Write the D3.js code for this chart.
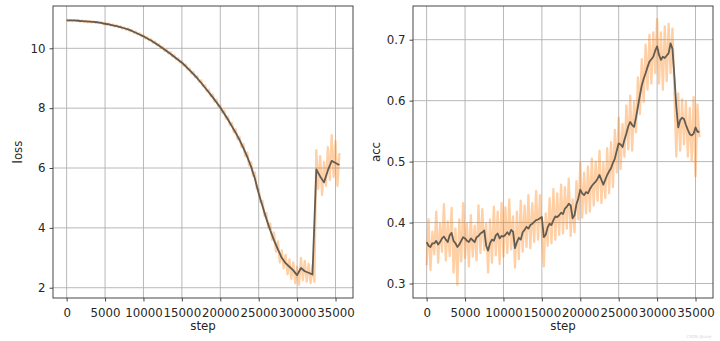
<!DOCTYPE html>
<html>
<head>
<meta charset="utf-8">
<script src="https://cdn.jsdelivr.net/npm/d3@7"></script>
<style>
  html, body { margin: 0; padding: 0; background: #fff; }
  svg { display: block; font-family: "DejaVu Sans", sans-serif; }
</style>
</head>
<body>
<svg id="chart" width="720" height="341"></svg>
<script>
// Training steps: raw log every 250 steps, coarse smoothed loss every 500 steps
const rawSteps = d3.range(0, 35750, 250);
const coarseSteps = d3.range(0, 36000, 500);

// Raw loss per logged step
const lossRaw = [
  10.97, 10.91, 10.95, 10.90, 10.94, 10.91, 10.94, 10.89, 10.93, 10.88,
  10.92, 10.87, 10.91, 10.86, 10.90, 10.85, 10.89, 10.84, 10.87, 10.81,
  10.85, 10.78, 10.83, 10.76, 10.80, 10.73, 10.77, 10.70, 10.74, 10.66,
  10.70, 10.62, 10.66, 10.57, 10.61, 10.52, 10.56, 10.46, 10.50, 10.40,
  10.44, 10.33, 10.37, 10.26, 10.30, 10.18, 10.23, 10.10, 10.14, 10.01,
  10.05, 9.92, 9.96, 9.83, 9.88, 9.73, 9.78, 9.63, 9.67, 9.53,
  9.57, 9.42, 9.46, 9.29, 9.33, 9.16, 9.21, 9.03, 9.07, 8.88,
  8.93, 8.73, 8.77, 8.56, 8.62, 8.40, 8.46, 8.22, 8.29, 8.05,
  8.10, 7.85, 7.92, 7.65, 7.72, 7.43, 7.51, 7.20, 7.30, 6.96,
  7.05, 6.70, 6.80, 6.40, 6.52, 6.08, 6.20, 5.75, 5.85, 5.30,
  5.30, 4.85, 4.90, 4.40, 4.50, 4.00, 4.15, 3.60, 3.85, 3.20,
  3.55, 2.85, 3.25, 2.65, 3.10, 2.45, 2.95, 2.30, 2.85, 2.15,
  2.70, 2.10, 3.00, 2.25, 2.90, 2.20, 2.80, 2.15, 2.75, 2.20,
  6.60, 5.30, 6.40, 5.10, 6.20, 5.40, 6.70, 5.60, 7.10, 5.70,
  6.90, 5.40, 6.50
];

// Smoothed loss (every 500 steps)
const lossSmooth = [
  10.93, 10.93, 10.93, 10.92, 10.91, 10.90, 10.89, 10.88, 10.87, 10.85,
  10.82, 10.80, 10.77, 10.74, 10.71, 10.67, 10.63, 10.58, 10.52, 10.46,
  10.40, 10.33, 10.26, 10.18, 10.09, 10.00, 9.91, 9.82, 9.72, 9.62,
  9.52, 9.40, 9.27, 9.14, 9.00, 8.85, 8.69, 8.53, 8.37, 8.20,
  8.02, 7.82, 7.62, 7.40, 7.18, 6.94, 6.67, 6.38, 6.05, 5.65,
  5.15, 4.72, 4.30, 3.92, 3.58, 3.28, 3.00, 2.82, 2.70, 2.58,
  2.42, 2.66, 2.55, 2.50, 2.44, 5.95, 5.72, 5.52, 5.92, 6.24,
  6.17, 6.10
];

// Raw accuracy per logged step
const accRaw = [
  0.330, 0.405, 0.322, 0.385, 0.348, 0.418, 0.334, 0.398, 0.352, 0.430,
  0.338, 0.402, 0.345, 0.424, 0.318, 0.390, 0.298, 0.405, 0.336, 0.432,
  0.342, 0.398, 0.328, 0.412, 0.344, 0.395, 0.338, 0.428, 0.350, 0.422,
  0.355, 0.398, 0.318, 0.405, 0.334, 0.426, 0.346, 0.418, 0.332, 0.432,
  0.344, 0.425, 0.350, 0.438, 0.356, 0.410, 0.326, 0.418, 0.340, 0.436,
  0.352, 0.428, 0.360, 0.445, 0.358, 0.432, 0.368, 0.452, 0.372, 0.445,
  0.380, 0.328, 0.415, 0.362, 0.440, 0.366, 0.455, 0.372, 0.448, 0.380,
  0.462, 0.382, 0.458, 0.390, 0.472, 0.378, 0.438, 0.384, 0.468, 0.405,
  0.498, 0.408, 0.482, 0.415, 0.492, 0.418, 0.505, 0.428, 0.500, 0.436,
  0.518, 0.432, 0.498, 0.440, 0.522, 0.448, 0.532, 0.458, 0.552, 0.482,
  0.572, 0.488, 0.562, 0.508, 0.592, 0.520, 0.608, 0.518, 0.598, 0.548,
  0.638, 0.578, 0.668, 0.598, 0.692, 0.618, 0.708, 0.628, 0.712, 0.645,
  0.7335, 0.628, 0.712, 0.618, 0.722, 0.632, 0.726, 0.645, 0.718, 0.615,
  0.508, 0.612, 0.518, 0.602, 0.528, 0.598, 0.508, 0.588, 0.502, 0.606,
  0.476, 0.594, 0.540
];

// Smoothed accuracy (every 250 steps)
const accSmooth = [
  0.368, 0.362, 0.360, 0.366, 0.366, 0.370, 0.364, 0.368, 0.374, 0.377,
  0.372, 0.368, 0.379, 0.383, 0.370, 0.366, 0.360, 0.364, 0.370, 0.376,
  0.374, 0.370, 0.368, 0.374, 0.371, 0.368, 0.376, 0.378, 0.382, 0.384,
  0.387, 0.362, 0.354, 0.366, 0.372, 0.370, 0.379, 0.382, 0.374, 0.378,
  0.377, 0.380, 0.384, 0.380, 0.388, 0.385, 0.358, 0.368, 0.375, 0.372,
  0.384, 0.388, 0.393, 0.390, 0.396, 0.398, 0.401, 0.404, 0.405, 0.407,
  0.409, 0.376, 0.380, 0.392, 0.398, 0.396, 0.404, 0.410, 0.409, 0.412,
  0.416, 0.414, 0.423, 0.426, 0.431, 0.428, 0.407, 0.412, 0.430, 0.440,
  0.454, 0.448, 0.445, 0.450, 0.448, 0.455, 0.460, 0.464, 0.467, 0.472,
  0.478, 0.470, 0.462, 0.470, 0.478, 0.484, 0.489, 0.498, 0.505, 0.518,
  0.530, 0.528, 0.524, 0.536, 0.546, 0.558, 0.565, 0.560, 0.557, 0.572,
  0.590, 0.608, 0.625, 0.636, 0.645, 0.655, 0.664, 0.668, 0.672, 0.682,
  0.689, 0.675, 0.667, 0.672, 0.670, 0.674, 0.678, 0.694, 0.685, 0.640,
  0.590, 0.556, 0.568, 0.572, 0.570, 0.560, 0.552, 0.545, 0.543, 0.546,
  0.556, 0.549, 0.549
];

const xTicks = [0, 5000, 10000, 15000, 20000, 25000, 30000, 35000];
const lossTicks = [2, 4, 6, 8, 10];
const accTicks = [0.3, 0.4, 0.5, 0.6, 0.7];

const svg = d3.select("#chart");
const textColor = "#262626";

// Axis limits padded by 5% of the data span on each side
function padded(values) {
  const [lo, hi] = d3.extent(values);
  const m = (hi - lo) * 0.05;
  return [lo - m, hi + m];
}

function panel(opts) {
  const { left, right, top, bottom, raw, smooth, smoothSteps, yTicks, yFormat, yLabel, yLabelX } = opts;
  const g = svg.append("g");
  const x = d3.scaleLinear().domain(padded(rawSteps)).range([left, right]);
  const y = d3.scaleLinear().domain(padded(raw)).range([bottom, top]);

  // grid
  g.append("g").selectAll("line").data(xTicks).join("line")
    .attr("x1", d => x(d)).attr("x2", d => x(d))
    .attr("y1", top).attr("y2", bottom)
    .attr("stroke", "#b0b0b0").attr("stroke-width", 0.9);
  g.append("g").selectAll("line").data(yTicks).join("line")
    .attr("x1", left).attr("x2", right)
    .attr("y1", d => y(d)).attr("y2", d => y(d))
    .attr("stroke", "#b0b0b0").attr("stroke-width", 0.9);

  // raw series
  g.append("path")
    .datum(raw)
    .attr("fill", "none")
    .attr("stroke", "#ff7f0e")
    .attr("stroke-opacity", 0.37)
    .attr("stroke-width", 2.3)
    .attr("stroke-linejoin", "round")
    .attr("d", d3.line().x((d, i) => x(rawSteps[i])).y(d => y(d)));

  // smoothed series
  g.append("path")
    .datum(smooth)
    .attr("fill", "none")
    .attr("stroke", "#625c52")
    .attr("stroke-width", 1.8)
    .attr("stroke-linejoin", "round")
    .attr("d", d3.line().x((d, i) => x(smoothSteps[i])).y(d => y(d)));

  // axes
  const xa = g.append("g").attr("transform", `translate(0,${bottom})`)
    .call(d3.axisBottom(x).tickValues(xTicks).tickFormat(d3.format("d")).tickSizeOuter(0).tickSize(3.5).tickPadding(4));
  const ya = g.append("g").attr("transform", `translate(${left},0)`)
    .call(d3.axisLeft(y).tickValues(yTicks).tickFormat(yFormat).tickSizeOuter(0).tickSize(3.5).tickPadding(4));
  [xa, ya].forEach(a => {
    a.select(".domain").remove();
    a.selectAll(".tick line").attr("stroke", "#333").attr("stroke-width", 0.9);
    a.selectAll(".tick text").attr("fill", textColor)
      .style("font-size", "11.8px").style("font-family", "DejaVu Sans, sans-serif");
  });
  xa.selectAll(".tick text").attr("dy", "0.95em");

  // frame
  g.append("rect")
    .attr("x", left).attr("y", top)
    .attr("width", right - left).attr("height", bottom - top)
    .attr("fill", "none").attr("stroke", "#333").attr("stroke-width", 0.9);

  // labels
  g.append("text")
    .attr("x", (left + right) / 2).attr("y", 330)
    .attr("text-anchor", "middle").attr("fill", textColor)
    .style("font-size", "11.8px").text("step");
  g.append("text")
    .attr("transform", `translate(${yLabelX},${(top + bottom) / 2}) rotate(-90)`)
    .attr("text-anchor", "middle").attr("fill", textColor)
    .style("font-size", "11.8px").text(yLabel);
}

panel({
  left: 53, right: 353, top: 6, bottom: 298,
  raw: lossRaw, smooth: lossSmooth, smoothSteps: coarseSteps,
  yTicks: lossTicks, yFormat: d3.format("d"),
  yLabel: "loss", yLabelX: 22
});

panel({
  left: 413, right: 713, top: 6, bottom: 298,
  raw: accRaw, smooth: accSmooth, smoothSteps: rawSteps,
  yTicks: accTicks, yFormat: d3.format(".1f"),
  yLabel: "acc", yLabelX: 380
});

// faint site mark in the corner
svg.append("text")
  .attr("x", 712).attr("y", 338)
  .attr("text-anchor", "end")
  .attr("fill", "#d6d6d6")
  .style("font-size", "4px")
  .text("CSDN @user");
</script>
</body>
</html>
